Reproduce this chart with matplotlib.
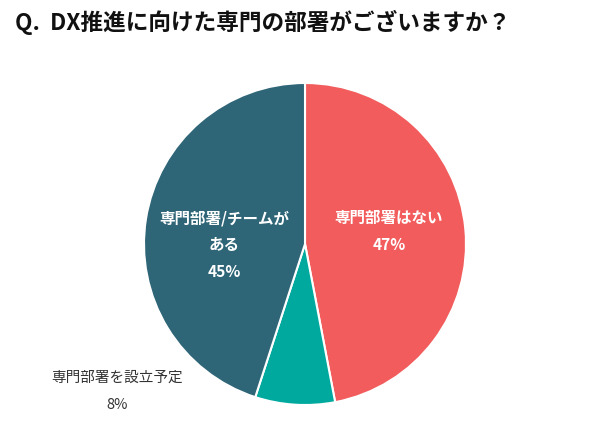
import matplotlib
matplotlib.use("Agg")
import matplotlib.pyplot as plt

plt.rcParams['font.family'] = ['Noto Sans CJK JP', 'DejaVu Sans']

title = "Q.  DX推進に向けた専門の部署がございますか？"
categories = ["専門部署はない", "専門部署を設立予定", "専門部署/チームが\nある"]
values = [47, 8, 45]
colors = ["#F25C5C", "#00A99D", "#2E6577"]

W, H = 600, 421
fig = plt.figure(figsize=(W / 100, H / 100), dpi=100)
ax = fig.add_axes([0, 0, 1, 1])

cx, cy, r = 305, H - 244, 161
ax.pie(values, colors=colors, startangle=90, counterclock=False,
       center=(cx, cy), radius=r, frame=True,
       wedgeprops=dict(edgecolor='white', linewidth=1.5))
ax.set_xlim(0, W)
ax.set_ylim(0, H)
ax.set_aspect('equal')
ax.axis('off')

line_gap = 27
# label anchors (first line position) and style per category
label_pos = [(389, H - 218), (117, H - 378), (224, H - 218)]
label_col = ['white', '#333333', 'white']
label_wt = ['bold', 'normal', 'bold']
label_fs = [11.2, 10.5, 11.2]
for cat, v, (x, y), c, wt, fs in zip(categories, values, label_pos,
                                     label_col, label_wt, label_fs):
    lines = cat.split('\n') + [f"{v}%"]
    for i, s in enumerate(lines):
        ax.text(x, y - i * line_gap, s, ha='center', va='center',
                color=c, fontsize=fs, fontweight=wt)

fig.text(15 / W, 1 - 22 / H, title, ha='left', va='center',
         fontsize=16.3, fontweight='bold', color='#111111')

fig.savefig("out.png", dpi=100, facecolor='white')
